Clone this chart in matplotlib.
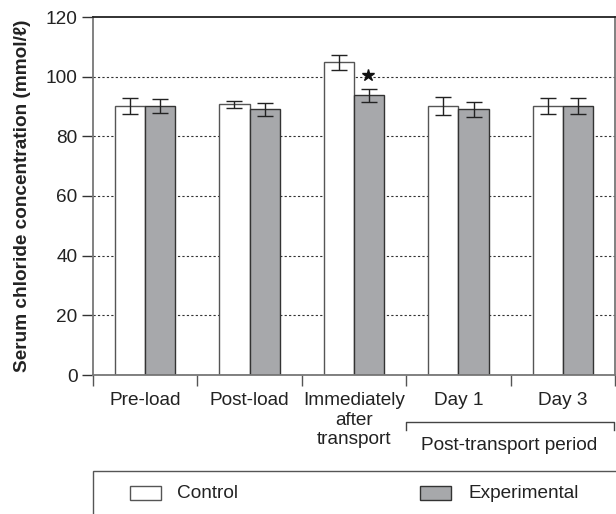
import matplotlib.pyplot as plt
from matplotlib.patches import Rectangle
from matplotlib.transforms import blended_transform_factory
import numpy as np

plt.rcParams['font.family'] = ['Liberation Sans', 'DejaVu Sans']

# values
groups = ['Pre-load', 'Post-load', 'Immediately\nafter\ntransport', 'Day 1', 'Day 3']
control = [90.2, 90.8, 104.8, 90.2, 90.2]
control_err = [2.8, 1.2, 2.4, 3.0, 2.7]
experimental = [90.2, 89.0, 93.7, 89.0, 90.2]
experimental_err = [2.3, 2.1, 2.1, 2.4, 2.8]
star_group = 2
star_y = 100.4

fs = 13.7
w = 0.29
x = np.arange(len(groups))

fig = plt.figure(figsize=(6.16, 5.14), dpi=100)
ax = fig.add_axes([93/616, 139/514, 522/616, 358/514])

ax.set_axisbelow(True)
ax.yaxis.grid(True, linestyle=(0, (2, 2)), color='#333333', linewidth=0.8)

ek = dict(ecolor='#222222', elinewidth=1.0, capsize=5.5, capthick=1.0)
ax.bar(x - w/2, control, w, yerr=control_err, color='white',
       edgecolor='#555555', linewidth=1.0, error_kw=ek, zorder=2)
ax.bar(x + w/2, experimental, w, yerr=experimental_err, color='#a7a8ab',
       edgecolor='#333333', linewidth=1.0, error_kw=ek, zorder=2)
ax.plot([star_group + w/2 - 0.01], [star_y], marker='*', color='#111111',
        markersize=9, linestyle='none', zorder=3)

ax.set_xlim(-0.5, 4.5)
ax.set_ylim(0, 120)
ax.set_yticks([0, 20, 40, 60, 80, 100, 120])
ax.tick_params(axis='y', length=8, width=1, color='#333333', labelsize=fs,
               pad=3, labelcolor='#222222')
ax.yaxis.get_gridlines()[-1].set_visible(False)
ax.set_xticks(x)
ax.set_xticklabels(groups, fontsize=fs, color='#222222', linespacing=1.22)
ax.tick_params(axis='x', which='major', length=0, pad=12)
ax.set_xticks(np.arange(-0.5, 5, 1), minor=True)
ax.tick_params(axis='x', which='minor', length=8, width=1, color='#555555')

for s in ['left', 'bottom', 'right']:
    ax.spines[s].set_color('#777777')
    ax.spines[s].set_linewidth(1.3)
ax.spines['top'].set_color('#222222')
ax.spines['top'].set_linewidth(1.3)
ax.spines['top'].set_zorder(4)

ax.set_ylabel('Serum chloride concentration (mmol/\u2113)', fontsize=fs,
              fontweight='bold', color='#222222')
ax.yaxis.set_label_coords(-0.119, 0.5)

# bracket for post-transport period
tr = blended_transform_factory(ax.transData, ax.transAxes)
ax.plot([2.5, 2.5, 4.49, 4.49], [-0.154, -0.131, -0.131, -0.154], transform=tr,
        color='#444444', linewidth=1.0, clip_on=False)
ax.text(3.49, -0.196, 'Post-transport period', transform=tr, ha='center',
        va='center', fontsize=fs, color='#222222')

# legend box
fig.patches.append(Rectangle((93/616, -0.01), 0.9, (514-471)/514 + 0.01,
                             transform=fig.transFigure, fill=False,
                             edgecolor='#555555', linewidth=1.0))
fig.patches.append(Rectangle((130/616, (514-500)/514), 31/616, 14/514,
                             transform=fig.transFigure, facecolor='white',
                             edgecolor='#555555', linewidth=1.0))
fig.patches.append(Rectangle((420/616, (514-500)/514), 31/616, 14/514,
                             transform=fig.transFigure, facecolor='#a7a8ab',
                             edgecolor='#333333', linewidth=1.0))
fig.text(177/616, (514-494)/514, 'Control', fontsize=fs, va='center',
         color='#222222')
fig.text(469/616, (514-494)/514, 'Experimental', fontsize=fs, va='center',
         color='#222222')

fig.savefig('out.png', dpi=100)
